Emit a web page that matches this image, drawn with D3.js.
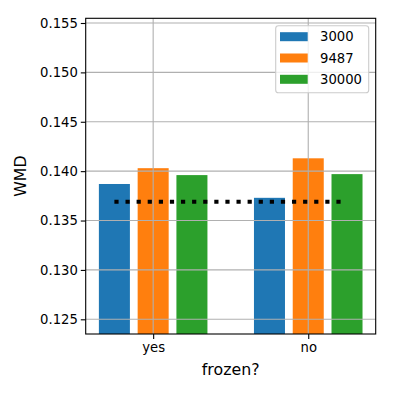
<!DOCTYPE html>
<html><head><meta charset="utf-8">
<script src="https://cdn.jsdelivr.net/npm/d3@7"></script>
<style>body{margin:0;background:#fff}svg{display:block}text{font-family:"DejaVu Sans",sans-serif;fill:#000}</style>
</head><body>
<svg id="c" width="393" height="393"></svg>
<script>
const categories = ["yes", "no"];
const seriesNames = ["3000", "9487", "30000"];
const values3000 = [0.1387, 0.1373];
const values9487 = [0.1403, 0.1413];
const values30000 = [0.1396, 0.1397];
const baselineValue = 0.1369;
const yTicks = [0.125, 0.130, 0.135, 0.140, 0.145, 0.150, 0.155];
const colors = ["#1f77b4", "#ff7f0e", "#2ca02c"];
const seriesValues = [values3000, values9487, values30000];

const svg = d3.select("#c");
const L = 85.7, R = 375.7, T = 18.3, B = 334;
const x = d3.scaleLinear().domain([-0.435, 1.435]).range([L, R]);
const y = d3.scaleLinear().domain([0.123512, 0.155476]).range([B, T]);
const offsets = [-0.25, 0, 0.25], bw = 0.2;

// bars
seriesValues.forEach((vals, s) => {
  svg.append("g").selectAll("rect").data(vals).join("rect")
    .attr("x", (d, i) => x(i + offsets[s] - bw / 2))
    .attr("width", (d, i) => x(i + offsets[s] + bw / 2) - x(i + offsets[s] - bw / 2))
    .attr("y", d => y(d))
    .attr("height", d => B - y(d))
    .attr("fill", colors[s]);
});

// grid
const grid = svg.append("g").attr("stroke", "#b0b0b0").attr("stroke-width", 1.1);
yTicks.forEach(t => grid.append("line").attr("x1", L).attr("x2", R).attr("y1", y(t)).attr("y2", y(t)));
categories.forEach((c, i) => grid.append("line").attr("x1", x(i)).attr("x2", x(i)).attr("y1", T).attr("y2", B));

// dotted baseline
svg.append("line")
  .attr("x1", x(-0.25)).attr("x2", x(1.25))
  .attr("y1", y(baselineValue)).attr("y2", y(baselineValue))
  .attr("stroke", "#000").attr("stroke-width", 4.2)
  .attr("stroke-dasharray", "4.2 6.9");

// axes
const yAxis = d3.axisLeft(y).tickValues(yTicks).tickFormat(d3.format(".3f")).tickSizeOuter(0).tickSize(4.9).tickPadding(3);
const gy = svg.append("g").attr("transform", `translate(${L},0)`).call(yAxis);
const xAxis = d3.axisBottom(x).tickValues([0, 1]).tickFormat(i => categories[i]).tickSizeOuter(0).tickSize(4.9).tickPadding(4);
const gx = svg.append("g").attr("transform", `translate(0,${B})`).call(xAxis);
[gy, gx].forEach(g => {
  g.select(".domain").remove();
  g.selectAll("line").attr("stroke", "#000").attr("stroke-width", 1.1);
  g.selectAll("text").attr("font-size", "13.2px").attr("font-family", "DejaVu Sans").attr("fill", "#000");
});

// frame
svg.append("rect").attr("x", L).attr("y", T).attr("width", R - L).attr("height", B - T)
  .attr("fill", "none").attr("stroke", "#000").attr("stroke-width", 1.1);

// axis labels
svg.append("text").attr("x", (L + R) / 2).attr("y", 375).attr("text-anchor", "middle")
  .attr("font-size", "15.8px").text("frozen?");
svg.append("text").attr("transform", `translate(26,${(T + B) / 2}) rotate(-90)`).attr("text-anchor", "middle")
  .attr("font-size", "15.8px").text("WMD");

// legend
const lg = svg.append("g");
lg.append("rect").attr("x", 275.7).attr("y", 25.7).attr("width", 93).attr("height", 67).attr("rx", 2.8)
  .attr("fill", "#fff").attr("fill-opacity", 0.8).attr("stroke", "#cccccc").attr("stroke-width", 1.1);
seriesNames.forEach((n, s) => {
  const cy = 36.7 + s * 21.3;
  lg.append("rect").attr("x", 280).attr("y", cy - 4.5).attr("width", 27.7).attr("height", 9).attr("fill", colors[s]);
  lg.append("text").attr("x", 320).attr("y", cy).attr("dy", "0.36em").attr("font-size", "13.2px").text(n);
});
</script>
</body></html>
